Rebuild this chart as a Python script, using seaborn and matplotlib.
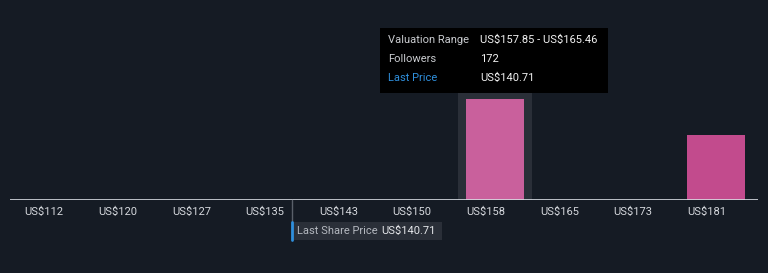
import matplotlib
matplotlib.use("Agg")
import matplotlib.pyplot as plt
import seaborn as sns
import pandas as pd
from matplotlib.patches import Rectangle

# ---- data ----
bin_labels = ["US$112", "US$120", "US$127", "US$135", "US$143",
              "US$150", "US$158", "US$165", "US$173", "US$181"]
bin_starts = [112.19, 119.80, 127.41, 135.02, 142.63,
              150.24, 157.85, 165.46, 173.07, 180.68]
followers = [0, 0, 0, 0, 0, 0, 172, 0, 0, 110]
last_price = 140.71
hover_index = 6
tooltip_rows = [("Valuation Range", "US$157.85 - US$165.46"),
                ("Followers", "172"),
                ("Last Price", "US$140.71")]

BG = "#151b24"
W, H = 768, 273
sns.set_theme(style="dark")
plt.rcParams["font.family"] = ["Roboto", "DejaVu Sans"]

fig = plt.figure(figsize=(W / 100, H / 100), dpi=100, facecolor=BG)
base_px = 200
ax = fig.add_axes([0, (H - base_px) / H, 1, base_px / H])
ax.set_facecolor(BG)

df = pd.DataFrame({"bin": bin_labels, "followers": followers})
colors = ["#c9609c" if i == hover_index else "#c24b8d" for i in range(len(bin_labels))]
sns.barplot(data=df, x="bin", y="followers", hue="bin", palette=colors,
            legend=False, width=0.79, ax=ax, zorder=3, saturation=1,
            edgecolor="none", linewidth=0)

unit = 73.6
c0 = 53.2
ymax = 172 * base_px / 101
ax.set_xlim(-c0 / unit, (W - c0) / unit)
ax.set_ylim(0, ymax)

# hover band (from baseline up to the tooltip bottom at px 93)
band_top = (base_px - 93) / base_px
ax.axvspan(hover_index - 0.5, hover_index + 0.5, ymin=0, ymax=band_top,
           color="#2a2f38", zorder=1, lw=0)
# baseline
ax.hlines(0, (10 - c0) / unit, (758 - c0) / unit, color="#d8dde3", lw=1.2, zorder=4)

ax.set_xticks([i - 9 / unit for i in range(len(bin_labels))])
ax.set_xticklabels(bin_labels, color="#d5d8dd", fontsize=8)
ax.set_yticks([])
ax.tick_params(axis="x", length=0, pad=5)
ax.set_xlabel("")
ax.set_ylabel("")
ax.grid(False)
for s in ax.spines.values():
    s.set_visible(False)

# last price marker
step = bin_starts[1] - bin_starts[0]
lp_x = (last_price - bin_starts[0]) / step - 0.5
lp_px = c0 + lp_x * unit

def fx(px):
    return px / W

def fy(py):
    return (H - py) / H

fig.add_artist(plt.Line2D([fx(lp_px), fx(lp_px)], [fy(200), fy(222)],
                          color="#5a606a", lw=1))
fig.add_artist(Rectangle((fx(lp_px), fy(240)), fx(150), (240 - 222) / H,
                         facecolor="#2a2f38", edgecolor="none"))
fig.add_artist(plt.Line2D([fx(lp_px), fx(lp_px)], [fy(222), fy(240)],
                          color="#2f8fdc", lw=2))
fig.text(fx(lp_px + 5), fy(231), "Last Share Price", color="#b4b8bf",
         fontsize=8, va="center", ha="left", parse_math=False)
fig.text(fx(lp_px + 89), fy(231), "US$140.71", color="#e6e8eb",
         fontsize=8, va="center", ha="left", parse_math=False)

# tooltip
fig.add_artist(Rectangle((fx(380), fy(93)), fx(228), (93 - 28) / H,
                         facecolor="#000000", edgecolor="none"))
row_y = [40, 59, 78]
for (k, v), yy in zip(tooltip_rows, row_y):
    kc = "#2f8fdc" if k == "Last Price" else "#c9cbcf"
    fig.text(fx(388), fy(yy), k, color=kc, fontsize=8, va="center", ha="left",
             parse_math=False)
    fig.text(fx(480), fy(yy), v, color="#f2f2f2", fontsize=8, va="center",
             ha="left", parse_math=False)

fig.savefig("out.png", dpi=100, facecolor=BG)
